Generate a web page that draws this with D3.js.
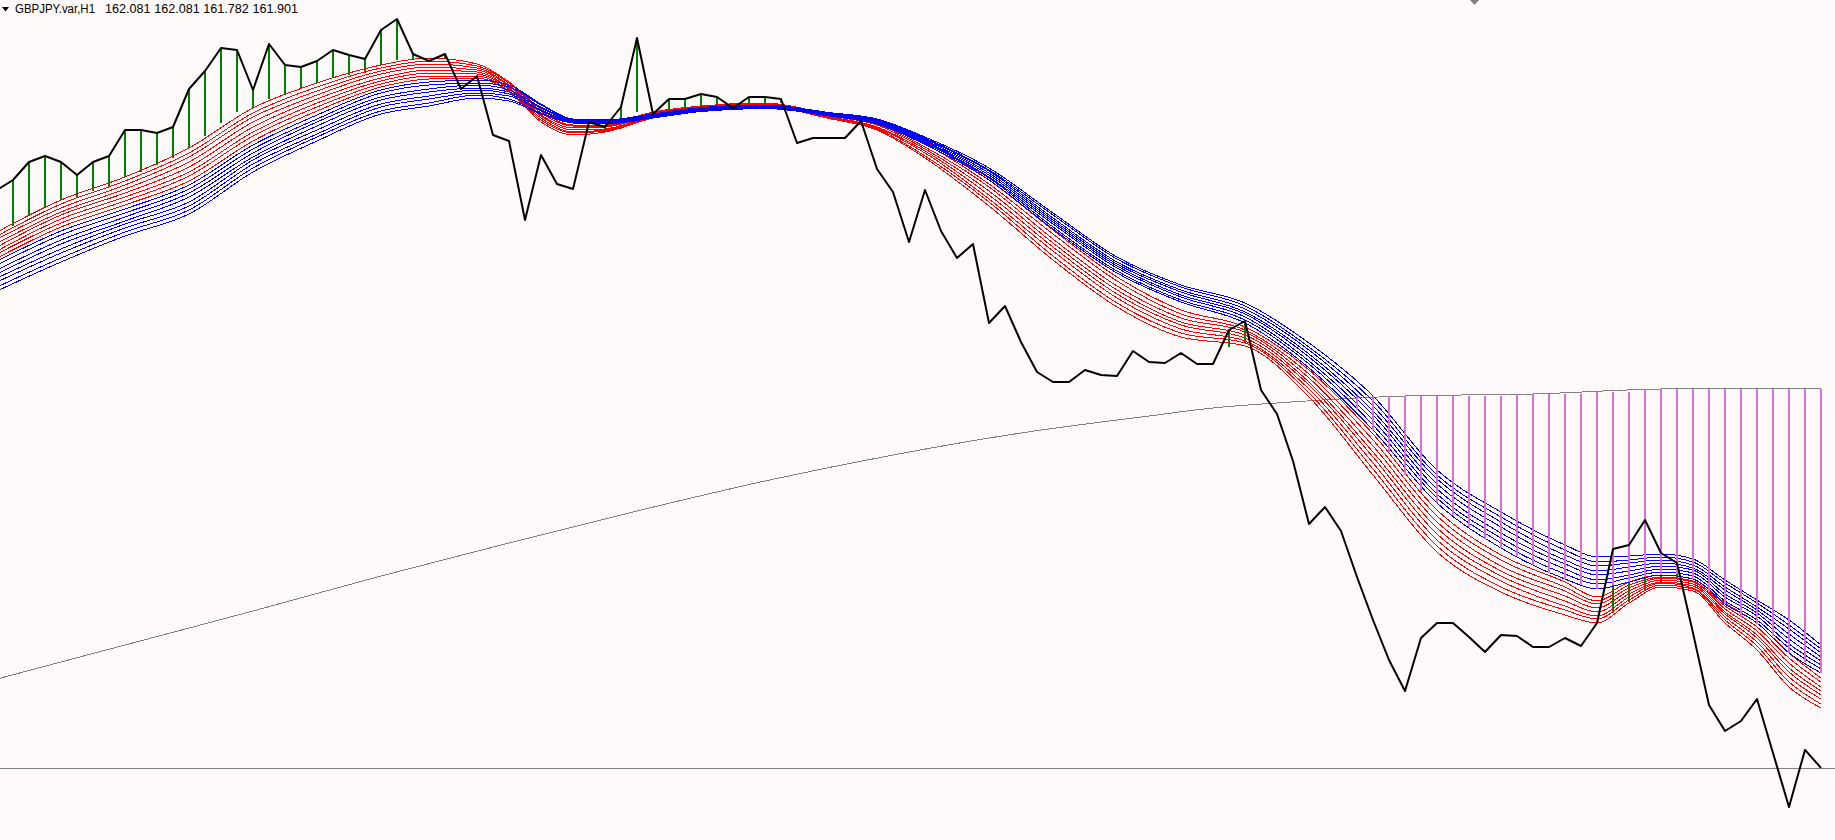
<!DOCTYPE html>
<html>
<head>
<meta charset="utf-8">
<script src="https://cdn.jsdelivr.net/npm/d3@7"></script>
<style>
  html, body { margin: 0; padding: 0; background: #fffafa; }
  svg { display: block; }
</style>
</head>
<body>
<svg id="chart" width="1835" height="840"></svg>
<script>
const symbolName = 'GBPJPY.var,H1';
const lastOhlc = ['162.081', '162.081', '161.782', '161.901'];

// close of every H1 bar, bar 0 sits just past the left edge
const closes = [
  167.68, 167.78, 167.96, 168.02, 167.96, 167.83, 167.96, 168.02, 168.28, 168.28,
  168.25, 168.31, 168.69, 168.87, 169.10, 169.08, 168.68, 169.14, 168.93, 168.91,
  168.97, 169.08, 169.03, 168.99, 169.28, 169.39, 169.04, 168.97, 169.04, 168.69,
  168.82, 168.23, 168.17, 167.38, 168.03, 167.74, 167.69, 168.36, 168.31, 168.51,
  169.20, 168.44, 168.59, 168.59, 168.64, 168.61, 168.50, 168.61, 168.61, 168.59,
  168.15, 168.20, 168.20, 168.20, 168.37, 167.89, 167.66, 167.16, 167.68, 167.27,
  167.00, 167.14, 166.35, 166.52, 166.16, 165.86, 165.76, 165.76, 165.88, 165.83,
  165.82, 166.07, 165.96, 165.95, 166.05, 165.94, 165.94, 166.28, 166.37, 165.68,
  165.44, 164.97, 164.34, 164.51, 164.27, 163.81, 163.38, 162.98, 162.67, 163.20,
  163.35, 163.35, 163.21, 163.06, 163.23, 163.22, 163.11, 163.11, 163.20, 163.12,
  163.35, 164.09, 164.13, 164.38, 164.05, 163.95, 163.25, 162.53, 162.27, 162.37,
  162.59, 162.05, 161.51, 162.081, 161.901
];

const ribbonBars = [0, 4, 8, 12, 16, 20, 24, 27, 30, 32, 34, 36, 38, 41, 44, 48, 52, 55, 58,
  62, 66, 70, 74, 78, 82, 86, 90, 94, 98, 100, 102, 104, 106, 108, 110, 112, 114];

// 8 fast averages, one row per ribbon bar
const redRows = [
  [167.26, 167.22, 167.19, 167.15, 167.11, 167.07, 167.04, 167.00],
  [167.58, 167.54, 167.50, 167.46, 167.43, 167.39, 167.35, 167.31],
  [167.81, 167.77, 167.73, 167.69, 167.65, 167.61, 167.57, 167.53],
  [168.10, 168.05, 168.01, 167.96, 167.91, 167.86, 167.82, 167.77],
  [168.50, 168.45, 168.41, 168.36, 168.31, 168.26, 168.22, 168.17],
  [168.75, 168.71, 168.67, 168.63, 168.59, 168.55, 168.51, 168.47],
  [168.93, 168.90, 168.87, 168.84, 168.80, 168.77, 168.74, 168.71],
  [169.00, 168.97, 168.94, 168.91, 168.88, 168.85, 168.82, 168.79],
  [168.94, 168.92, 168.90, 168.88, 168.86, 168.84, 168.82, 168.80],
  [168.76, 168.75, 168.73, 168.72, 168.70, 168.69, 168.67, 168.66],
  [168.49, 168.47, 168.45, 168.43, 168.42, 168.40, 168.38, 168.36],
  [168.35, 168.33, 168.32, 168.30, 168.28, 168.26, 168.25, 168.23],
  [168.34, 168.33, 168.32, 168.31, 168.29, 168.28, 168.27, 168.26],
  [168.46, 168.45, 168.44, 168.43, 168.43, 168.42, 168.41, 168.40],
  [168.52, 168.51, 168.51, 168.50, 168.50, 168.49, 168.49, 168.48],
  [168.550, 168.545, 168.540, 168.535, 168.530, 168.525, 168.520, 168.515],
  [168.440, 168.434, 168.427, 168.421, 168.414, 168.408, 168.401, 168.395],
  [168.36, 168.35, 168.34, 168.33, 168.31, 168.30, 168.29, 168.28],
  [168.16, 168.14, 168.11, 168.09, 168.07, 168.05, 168.02, 168.00],
  [167.78, 167.74, 167.71, 167.67, 167.63, 167.59, 167.56, 167.52],
  [167.28, 167.24, 167.19, 167.15, 167.11, 167.07, 167.02, 166.98],
  [166.81, 166.77, 166.72, 166.68, 166.64, 166.60, 166.55, 166.51],
  [166.48, 166.44, 166.40, 166.36, 166.33, 166.29, 166.25, 166.21],
  [166.31, 166.28, 166.26, 166.23, 166.20, 166.17, 166.15, 166.12],
  [165.88, 165.84, 165.80, 165.76, 165.73, 165.69, 165.65, 165.61],
  [165.24, 165.18, 165.12, 165.06, 165.01, 164.95, 164.89, 164.83],
  [164.48, 164.42, 164.36, 164.30, 164.24, 164.18, 164.12, 164.06],
  [164.03, 163.98, 163.92, 163.87, 163.82, 163.77, 163.71, 163.66],
  [163.76, 163.71, 163.67, 163.62, 163.57, 163.52, 163.48, 163.43],
  [163.61, 163.57, 163.54, 163.50, 163.46, 163.42, 163.39, 163.35],
  [163.76, 163.73, 163.70, 163.67, 163.64, 163.61, 163.58, 163.55],
  [163.83, 163.81, 163.80, 163.78, 163.76, 163.75, 163.73, 163.71],
  [163.79, 163.77, 163.76, 163.74, 163.72, 163.70, 163.69, 163.67],
  [163.55, 163.52, 163.49, 163.46, 163.44, 163.41, 163.38, 163.35],
  [163.35, 163.31, 163.27, 163.23, 163.20, 163.16, 163.12, 163.08],
  [163.05, 163.00, 162.95, 162.90, 162.86, 162.81, 162.76, 162.71],
  [162.80, 162.76, 162.71, 162.67, 162.63, 162.59, 162.54, 162.50]
];

// 8 slow averages, same bars
const blueRows = [
  [166.97, 166.93, 166.88, 166.84, 166.80, 166.76, 166.71, 166.67],
  [167.27, 167.23, 167.18, 167.14, 167.09, 167.05, 167.00, 166.96],
  [167.49, 167.45, 167.41, 167.37, 167.34, 167.30, 167.26, 167.22],
  [167.73, 167.69, 167.65, 167.61, 167.56, 167.52, 167.48, 167.44],
  [168.13, 168.09, 168.05, 168.01, 167.98, 167.94, 167.90, 167.86],
  [168.43, 168.39, 168.36, 168.32, 168.28, 168.24, 168.21, 168.17],
  [168.68, 168.65, 168.61, 168.58, 168.54, 168.51, 168.47, 168.44],
  [168.76, 168.73, 168.69, 168.66, 168.62, 168.59, 168.55, 168.52],
  [168.78, 168.75, 168.73, 168.70, 168.68, 168.65, 168.63, 168.60],
  [168.73, 168.71, 168.68, 168.66, 168.64, 168.62, 168.59, 168.57],
  [168.54, 168.53, 168.51, 168.50, 168.48, 168.47, 168.45, 168.44],
  [168.390, 168.384, 168.379, 168.373, 168.367, 168.361, 168.356, 168.350],
  [168.380, 168.374, 168.369, 168.363, 168.357, 168.351, 168.346, 168.340],
  [168.440, 168.434, 168.429, 168.423, 168.417, 168.411, 168.406, 168.400],
  [168.505, 168.499, 168.494, 168.488, 168.482, 168.476, 168.471, 168.465],
  [168.530, 168.525, 168.520, 168.515, 168.510, 168.505, 168.500, 168.495],
  [168.455, 168.450, 168.445, 168.440, 168.435, 168.430, 168.425, 168.420],
  [168.390, 168.383, 168.376, 168.369, 168.361, 168.354, 168.347, 168.340],
  [168.210, 168.199, 168.189, 168.178, 168.167, 168.156, 168.146, 168.135],
  [167.90, 167.88, 167.87, 167.85, 167.83, 167.81, 167.80, 167.78],
  [167.45, 167.43, 167.40, 167.38, 167.36, 167.34, 167.31, 167.29],
  [167.01, 166.99, 166.96, 166.94, 166.92, 166.90, 166.87, 166.85],
  [166.73, 166.71, 166.68, 166.66, 166.63, 166.61, 166.58, 166.56],
  [166.55, 166.52, 166.49, 166.46, 166.44, 166.41, 166.38, 166.35],
  [166.15, 166.11, 166.08, 166.04, 166.01, 165.97, 165.94, 165.90],
  [165.62, 165.57, 165.52, 165.47, 165.43, 165.38, 165.33, 165.28],
  [164.88, 164.83, 164.79, 164.74, 164.69, 164.64, 164.60, 164.55],
  [164.46, 164.41, 164.36, 164.31, 164.25, 164.20, 164.15, 164.10],
  [164.13, 164.08, 164.03, 163.98, 163.94, 163.89, 163.84, 163.79],
  [164.01, 163.96, 163.92, 163.87, 163.83, 163.78, 163.74, 163.69],
  [164.02, 163.98, 163.95, 163.91, 163.87, 163.83, 163.80, 163.76],
  [164.04, 164.01, 163.98, 163.95, 163.92, 163.89, 163.86, 163.83],
  [163.99, 163.96, 163.93, 163.90, 163.88, 163.85, 163.82, 163.79],
  [163.78, 163.75, 163.71, 163.68, 163.64, 163.61, 163.57, 163.54],
  [163.58, 163.55, 163.51, 163.48, 163.45, 163.42, 163.38, 163.35],
  [163.38, 163.33, 163.29, 163.24, 163.19, 163.14, 163.10, 163.05],
  [163.13, 163.09, 163.05, 163.01, 162.97, 162.93, 162.89, 162.85]
];

// long moving average (thin gray)
const maBars = [0, 8, 16, 24, 32, 40, 48, 56, 64, 72, 76, 80, 88, 96, 104, 112, 114];
const maValues = [162.79, 163.13, 163.47, 163.82, 164.15, 164.47, 164.77, 165.03, 165.25,
  165.42, 165.50, 165.55, 165.62, 165.64, 165.69, 165.70, 165.69];

// green histogram: from the close down to this level
const greenBars = [1, 2, 3, 4, 5, 6, 7, 8, 9, 10, 11, 12, 13, 14, 15, 16, 17, 18, 19, 20,
  21, 22, 23, 24, 25, 26, 28, 38, 39, 40, 42, 43, 44, 45, 47, 48, 49, 77, 78,
  101, 102, 103, 104, 105];
const greenEnds = [167.32, 167.42, 167.51, 167.58, 167.61, 167.67, 167.72, 167.81, 167.86, 167.93,
  168.00, 168.10, 168.22, 168.35, 168.46, 168.50, 168.59, 168.64, 168.69, 168.75,
  168.80, 168.83, 168.855, 168.93, 168.98, 168.99, 169.00, 168.26, 168.29, 168.46,
  168.48, 168.48, 168.50, 168.52, 168.53, 168.54, 168.55, 166.11, 166.15,
  163.45, 163.56, 163.68, 163.76, 163.80];

// orchid histogram between the long average and the slow ribbon
const orchidBars = [85, 86, 87, 88, 89, 90, 91, 92, 93, 94, 95, 96, 97, 98, 99,
  100, 101, 102, 103, 104, 105, 106, 107, 108, 109, 110, 111, 112, 113, 114];
const orchidTops = [165.62, 165.62, 165.62, 165.62, 165.62, 165.62, 165.62, 165.62, 165.62, 165.62,
  165.645, 165.645, 165.645, 165.645, 165.645, 165.665, 165.665, 165.665,
  165.69, 165.69, 165.69, 165.69, 165.69, 165.69, 165.69, 165.69, 165.69, 165.69, 165.69, 165.69];
const orchidBottoms = [165.48, 165.28, 165.06, 164.83, 164.67, 164.55, 164.43, 164.31, 164.19, 164.10,
  164.02, 163.93, 163.85, 163.79, 163.73, 163.69, 163.73, 163.76, 163.81, 163.83,
  163.84, 163.79, 163.66, 163.54, 163.41, 163.34, 163.22, 163.05, 162.96, 162.85];

const width = 1835, height = 840;
const barStep = 16, firstBarX = -3;

const svg = d3.select('#chart');

const x = d3.scaleLinear()
  .domain([0, closes.length - 1])
  .range([firstBarX, firstBarX + barStep * (closes.length - 1)]);
const y = d3.scaleLinear().domain([169.58, 161.18]).range([0, height]);

const plot = svg.append('g');

// long average
plot.append('path')
  .attr('d', d3.line().x((d, i) => x(maBars[i])).y(d => y(d)).curve(d3.curveMonotoneX)(maValues))
  .attr('fill', 'none')
  .attr('stroke', '#808080')
  .attr('stroke-width', 1)
  .attr('shape-rendering', 'crispEdges');

// bid line at the last close
const bidY = Math.round(y(closes[closes.length - 1])) + 0.5;
plot.append('line')
  .attr('x1', 0).attr('x2', width)
  .attr('y1', bidY).attr('y2', bidY)
  .attr('stroke', '#808080')
  .attr('stroke-width', 1);

plot.append('g')
  .selectAll('line')
  .data(greenBars)
  .join('line')
  .attr('x1', d => x(d)).attr('x2', d => x(d))
  .attr('y1', d => y(closes[d]))
  .attr('y2', (d, i) => y(greenEnds[i]))
  .attr('stroke', '#008000')
  .attr('stroke-width', 2)
  .attr('shape-rendering', 'crispEdges');

const ribbonLine = d3.line()
  .x((d, i) => x(ribbonBars[i]))
  .y(d => y(d))
  .curve(d3.curveMonotoneX);

function drawRibbon(rows, colour) {
  const lines = d3.range(rows[0].length).map(j => rows.map(r => r[j]));
  plot.append('g')
    .selectAll('path')
    .data(lines)
    .join('path')
    .attr('d', d => ribbonLine(d))
    .attr('fill', 'none')
    .attr('stroke', colour)
    .attr('stroke-width', 1)
    .attr('shape-rendering', 'crispEdges');
}

drawRibbon(redRows, '#ff0000');
drawRibbon(blueRows, '#0000ff');

plot.append('g')
  .selectAll('line')
  .data(orchidBars)
  .join('line')
  .attr('x1', d => x(d)).attr('x2', d => x(d))
  .attr('y1', (d, i) => y(orchidTops[i]))
  .attr('y2', (d, i) => y(orchidBottoms[i]))
  .attr('stroke', '#da70d6')
  .attr('stroke-width', 2)
  .attr('shape-rendering', 'crispEdges');

// close line
plot.append('path')
  .attr('d', d3.line().x((d, i) => x(i)).y(d => y(d))(closes))
  .attr('fill', 'none')
  .attr('stroke', '#000000')
  .attr('stroke-width', 2)
  .attr('stroke-linejoin', 'round');

// title in the top left corner
svg.append('path')
  .attr('d', 'M2,7H9L5.5,11.5Z')
  .attr('fill', '#000000');

const titleFont = '"Liberation Sans", Arial, sans-serif';
svg.append('text')
  .attr('x', 15).attr('y', 13)
  .attr('textLength', 80)
  .attr('lengthAdjust', 'spacingAndGlyphs')
  .style('font-family', titleFont)
  .style('font-size', '12.5px')
  .text(symbolName);
svg.append('text')
  .attr('x', 105).attr('y', 13)
  .attr('textLength', 193)
  .attr('lengthAdjust', 'spacingAndGlyphs')
  .style('font-family', titleFont)
  .style('font-size', '12.5px')
  .text(lastOhlc.join(' '));

// chart shift marker
svg.append('path')
  .attr('d', 'M1470,0H1479L1474.5,5Z')
  .attr('fill', '#808080');
</script>
</body>
</html>
